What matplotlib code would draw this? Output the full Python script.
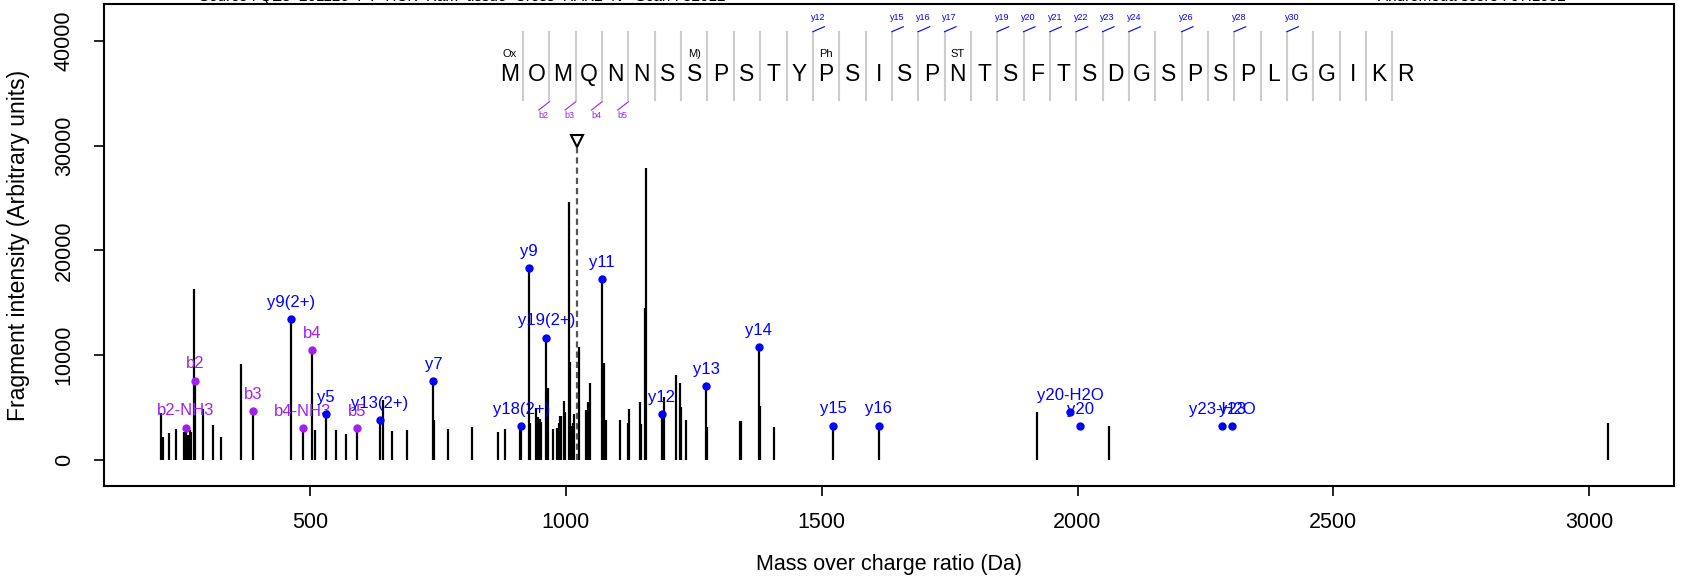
import matplotlib
matplotlib.use("Agg")
import matplotlib.pyplot as plt

plt.rcParams["font.family"] = ["Liberation Sans", "DejaVu Sans"]

# spectrum peaks (m/z, intensity)
peak_mz = [208, 212, 224, 238, 253, 256.4, 261, 265, 268, 272.6, 274.5, 290.8, 311, 325,
           365, 389, 462, 486, 503, 510, 530, 551, 571, 591, 636, 642, 660, 690, 741, 743,
           769, 816, 867, 881, 910.7, 912.6, 927, 929, 942, 945.4, 949, 952, 961.6, 964,
           974.5, 983, 986, 989, 991, 996, 999, 1005, 1007, 1010, 1013, 1016, 1025, 1040,
           1043, 1047, 1071, 1074, 1078, 1106, 1121, 1123, 1145, 1147, 1154, 1156, 1187.6,
           1191, 1216, 1223.5, 1225.5, 1234, 1274.4, 1276, 1339.5, 1341.5, 1376.6, 1378.5,
           1406, 1522, 1611, 1920, 2062, 3037]
peak_int = [4450, 2230, 2600, 2930, 2700, 3085, 2390, 2860, 2700, 16290, 7570, 4840, 3340, 2230,
            9130, 4645, 13424, 3054, 10466, 2863, 4390, 2863, 2450, 3054, 3785, 5726, 2767, 2863, 7540, 3817,
            2926, 3181, 2704, 2926, 3050, 3245, 18350, 3500, 4930, 4140, 3930, 3660, 11670, 6840,
            2926, 3020, 3500, 4200, 4200, 5660, 4530, 24650, 9380, 3245, 3500, 4400, 10750, 4770,
            5570, 7320, 17300, 9220, 3818, 3820, 3500, 4840, 5500, 3400, 14500, 27836, 4360,
            6040, 8110, 7320, 5090, 3820, 7060, 3180, 3720, 3720, 10780, 5150,
            3180, 3280, 3280, 4550, 3210, 3500]

# matched fragment ions
b_labels = ["b2-NH3", "b2", "b3", "b4-NH3", "b4", "b5"]
b_mz = [256.4, 274.5, 389, 486, 503, 591]
b_int = [3085, 7570, 4645, 3054, 10466, 3054]

y_labels = ["y9(2+)", "y5", "y13(2+)", "y7", "y18(2+)", "y9", "y19(2+)", "y11", "y12", "y13",
            "y14", "y15", "y16", "y20-H2O", "y20", "y23-H2O", "y23"]
y_mz = [462, 530, 636, 741, 912.6, 927, 961.6, 1071, 1187.6, 1274.4,
        1376.6, 1522, 1611, 1986, 2005, 2283, 2302]
y_int = [13424, 4390, 3785, 7540, 3245, 18350, 11670, 17300, 4360, 7060,
         10780, 3280, 3280, 4550, 3210, 3210, 3210]

precursor_mz = 1022
precursor_int = 30460

# peptide sequence and fragment coverage
sequence = "MOMQNNSSPSTYPSISPNTSFTSDGSPSPLGGIKR"
mod_pos = [0, 7, 12, 17]
mod_text = ["Ox", "M)", "Ph", "ST"]
b_cover = [2, 3, 4, 5]
y_cover = [12, 15, 16, 17, 19, 20, 21, 22, 23, 24, 26, 28, 30]

b_col = "#A020F0"
y_col = "#0000FF"

fig = plt.figure(figsize=(16.85, 5.81), dpi=100)
ax = fig.add_axes([104 / 1685, 1 - 485.7 / 581, 1570 / 1685, 481.4 / 581])

ax.vlines(peak_mz, 0, peak_int, colors="black", lw=1.6)

# precursor
ax.vlines(precursor_mz, 0, precursor_int, colors="#555555", lw=1.6,
          linestyles=(0, (2.8, 1.8)))
ax.plot(precursor_mz, precursor_int, marker="v", ms=9, mfc="white", mec="black",
        mew=1.5, zorder=5)

ax.plot(b_mz, b_int, "o", color=b_col, ms=5, zorder=4)
ax.plot(y_mz, y_int, "o", color=y_col, ms=5, zorder=4)
for lab, x, y in zip(b_labels, b_mz, b_int):
    ax.annotate(lab, (x, y), xytext=(0, 12), textcoords="offset points",
                ha="center", va="center", fontsize=12, color=b_col)
for lab, x, y in zip(y_labels, y_mz, y_int):
    ax.annotate(lab, (x, y), xytext=(0, 12), textcoords="offset points",
                ha="center", va="center", fontsize=12, color=y_col)

# sequence drawn on top of the spectrum
x0 = 890.6
step = 51.48
for i, aa in enumerate(sequence):
    ax.text(x0 + i * step, 36200, aa, ha="center", va="baseline", fontsize=16.5)
for p, t in zip(mod_pos, mod_text):
    ax.text(x0 + p * step, 38450, t, ha="center", va="baseline", fontsize=8)
for k in range(1, len(sequence)):
    xs = x0 + (k - 0.5) * step
    ax.plot([xs, xs], [34355, 40875], color="#CCCCCC", lw=1.5, zorder=1)
for n in y_cover:
    xs = x0 + (n - 0.5) * step
    ax.plot([xs, xs + 22.5], [40875, 41350], color=y_col, lw=0.8)
    ax.text(xs + 10, 41990, "y%d" % n, ha="center", va="baseline", fontsize=6.5, color=y_col)
for n in b_cover:
    xs = x0 + (n - 0.5) * step
    ax.plot([xs, xs - 21], [34190, 33400], color=b_col, lw=0.8)
    ax.text(xs - 12, 32610, "b%d" % n, ha="center", va="baseline", fontsize=6.5, color=b_col)

ax.set_xlim(97, 3166)
ax.set_ylim(-2460, 43490)
ax.set_xticks([500, 1000, 1500, 2000, 2500, 3000])
ax.set_yticks([0, 10000, 20000, 30000, 40000])
ax.tick_params(labelsize=15.5, length=7, width=1.2, pad=12)
ax.tick_params(axis="y", pad=14)
for lab in ax.get_yticklabels():
    lab.set_rotation(90)
    lab.set_va("center")
for sp in ax.spines.values():
    sp.set_linewidth(1.5)
ax.set_xlabel("Mass over charge ratio (Da)", fontsize=15.5, labelpad=15)
ax.set_ylabel("Fragment intensity (Arbitrary units)", fontsize=16.5, labelpad=17)

fig.text(462 / 1685, 1 + 3 / 581, "Source : QE3_201126_PT_HCK_Ram_tissue_Cross_RAK2_N - Scan : 32012",
         ha="center", va="center", fontsize=11)
fig.text(1472 / 1685, 1 + 3 / 581, "Andromeda score : 97.1932",
         ha="center", va="center", fontsize=11)

fig.savefig("out.png", dpi=100)
